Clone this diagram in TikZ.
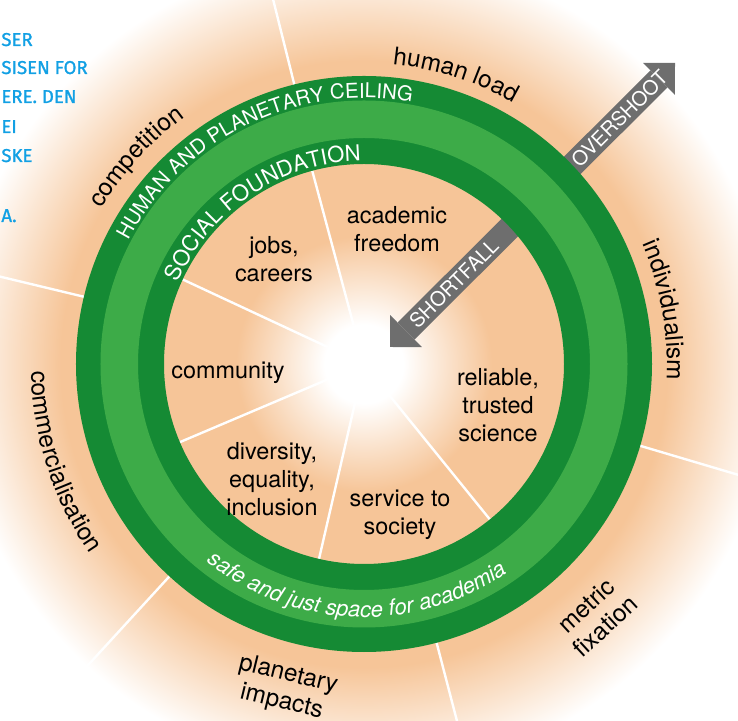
\documentclass[tikz,border=0pt]{standalone}
\usepackage{fontspec}
\setmainfont{TeX Gyre Heros}
\newfontfamily\bluefont[FakeBold=1.2]{Fira Sans}
\usepackage{xcolor}
\usetikzlibrary{arrows.meta, decorations.text}

\definecolor{peach}{RGB}{246,197,152}
\definecolor{ringdark}{RGB}{21,138,52}
\definecolor{ringlight}{RGB}{61,171,72}
\definecolor{arrowgrey}{RGB}{110,110,110}
\definecolor{textblue}{RGB}{18,160,228}

\newcommand\ringfont{\fontsize{10.2}{12}\selectfont}
\newcommand\footfont{\fontsize{11}{13}\selectfont}
\newcommand\outerfont{\fontsize{12.2}{14}\selectfont}

% peach glow behind the doughnut, white in the middle and at the rim
\pgfdeclareradialshading{peachglow}{\pgfpoint{0bp}{0bp}}{%
  color(0bp)=(white); color(2.4bp)=(white); color(7.8bp)=(peach);
  color(18.5bp)=(peach); color(25bp)=(white); color(50bp)=(white)}

\begin{document}
\begin{tikzpicture}[x=0.5pt, y=0.5pt,
    spoke/.style={white, line width=1.2pt},
    innerlabel/.style={align=center, font=\fontsize{11.7}{14}\selectfont},
    outerlabel/.style={align=center, font=\outerfont},
    arrowlabel/.style={sloped, text=white, font=\fontsize{10}{12}\selectfont},
    bluetext/.style={anchor=base west, inner sep=0pt, text=textblue,
      font=\bluefont\fontsize{9.3}{11}\selectfont},
    tip/.tip={Triangle[length=11.3pt, width=22.6pt, line width=0pt]}
  ]
  % Frame
  \useasboundingbox (-364,-357) rectangle (374,364);
  \clip (-364,-357) rectangle (374,364);

  % Background glow
  \shade[shading=peachglow] (0,0) circle (410);

  % Spokes inside and outside the ring
  \foreach \a in {105,155,203,257,309}
    \draw[spoke] (\a:40) -- (\a:200);
  \foreach \a in {104,166.5,227.5,284.6,343.5}
    \draw[spoke] (\a:288) -- (\a:430);

  % Shortfall / overshoot arrow
  \coordinate (shortfall) at (26,17);
  \coordinate (overshoot) at (311,301);
  \draw[arrowgrey, line width=12pt, tip-tip] (shortfall) --
    node[arrowlabel, pos=0.224] (shortfalltext) {SHORTFALL}
    node[arrowlabel, pos=0.805] (overshoottext) {OVERSHOOT} (overshoot);

  % Doughnut
  \fill[ringdark, even odd rule] (0,0) circle (288) circle (200);
  \fill[ringlight, even odd rule] (0,0) circle (263.5) circle (226);

  % Titles on the ring
  \path[decorate, decoration={text along path, text align=center, text color=white,
      text={|\ringfont|HUMAN AND PLANETARY CEILING}}]
    (176:266) arc[start angle=176, end angle=56, radius=266];
  \path[decorate, decoration={text along path, text align=center, text color=white,
      text={|\fontsize{11}{13}\selectfont|SOCIAL FOUNDATION}}]
    (183.6:203) arc[start angle=183.6, end angle=63.6, radius=203];
  \path[decorate, decoration={text along path, text align=center, text color=white,
      text={|\itshape\footfont|safe and just space for academia}}]
    (208:253) arc[start angle=208, end angle=328, radius=253];

  % Outer labels
  \path[decorate, decoration={text along path, text align=center,
      text={|\outerfont|human load}}]
    (112.4:301) arc[start angle=112.4, end angle=32.4, radius=301];
  \path[decorate, decoration={text along path, text align=center,
      text={|\outerfont|competition}}]
    (177.7:305) arc[start angle=177.7, end angle=97.7, radius=305];
  \path[decorate, decoration={text along path, text align=center,
      text={|\outerfont|individualism}}]
    (50.2:303) arc[start angle=50.2, end angle=-29.8, radius=303];
  \path[decorate, decoration={text along path, text align=center,
      text={|\outerfont|commercialisation}}]
    (148:333) arc[start angle=148, end angle=248, radius=333];
  \node[outerlabel, rotate=42.6] (metric) at (-47.4:342) {metric\\fixation};
  \node[outerlabel, rotate=-13.7] (planetary) at (256.3:334) {planetary\\impacts};

  % Inner labels
  \node[innerlabel] (freedom) at (33,135) {academic\\freedom};
  \node[innerlabel] (jobs) at (-90,105) {jobs,\\careers};
  \node[innerlabel] (community) at (-136,-9) {community};
  \node[innerlabel] (diversity) at (-92,-115) {diversity,\\equality,\\inclusion};
  \node[innerlabel] (service) at (36,-151) {service to\\society};
  \node[innerlabel] (science) at (134,-41) {reliable,\\trusted\\science};

  % Cut-off article text on the left
  \node[bluetext] (line1) at (-363,318) {SER};
  \node[bluetext] (line2) at (-363,290) {SISEN FOR};
  \node[bluetext] (line3) at (-363,261) {ERE. DEN};
  \node[bluetext] (line4) at (-363,231) {EI};
  \node[bluetext] (line5) at (-363,202) {SKE};
  \node[bluetext] (line6) at (-363,142) {A.};
\end{tikzpicture}
\end{document}
